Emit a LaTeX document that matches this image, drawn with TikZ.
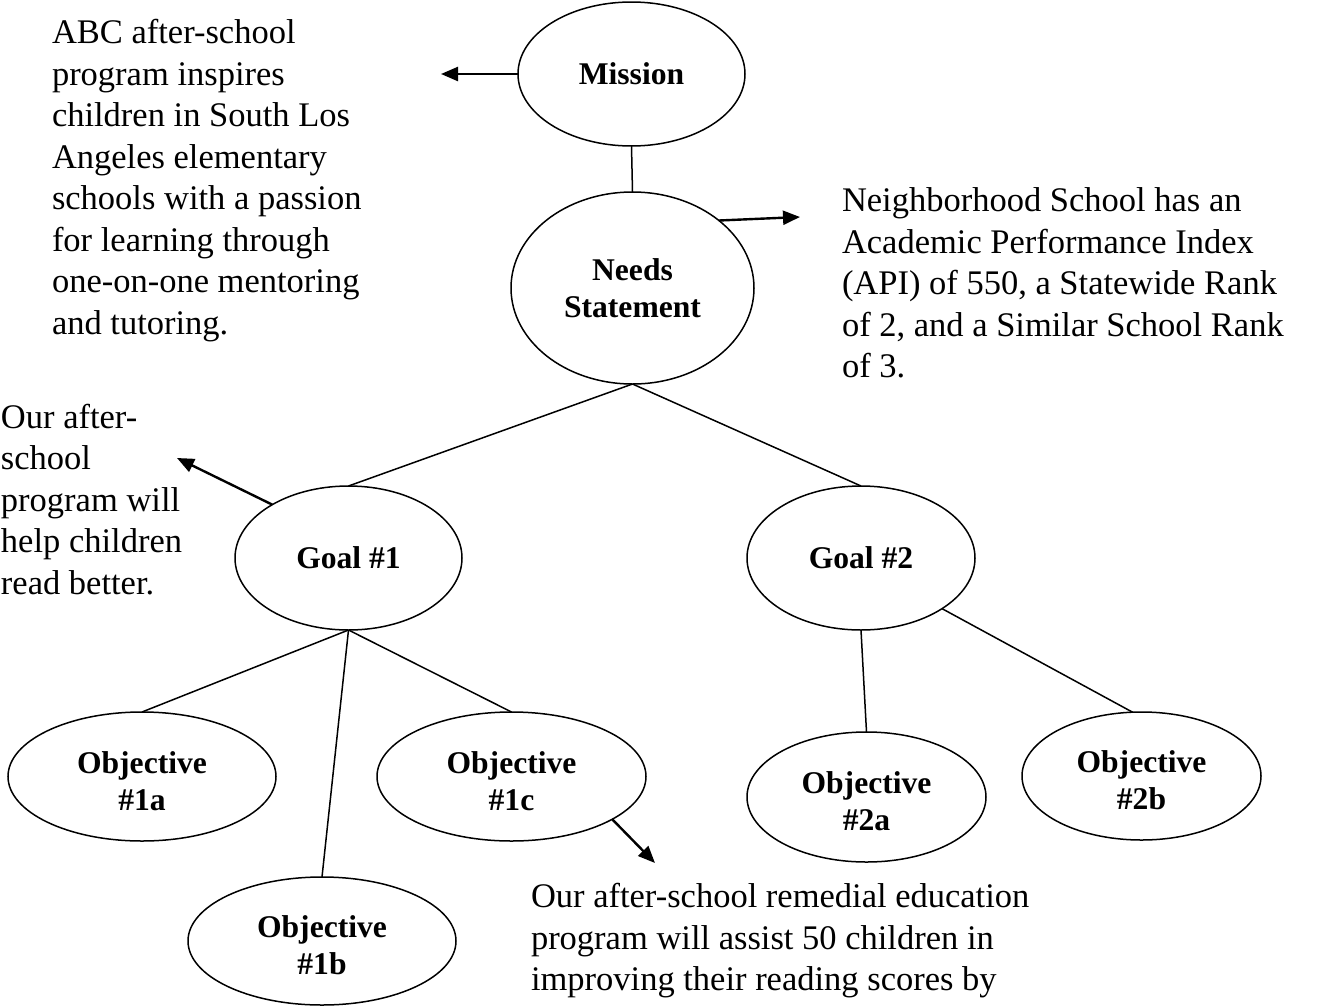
\documentclass[tikz,border=0pt]{standalone}
\usepackage{fontspec}
\setmainfont{Liberation Serif}
\usetikzlibrary{arrows.meta,shapes.geometric}
\begin{document}
\begin{tikzpicture}[x=1pt,y=-1pt,
  bub/.style={draw, ellipse, line width=1.5pt, inner sep=0pt, outer sep=0pt, align=center,
    font=\fontsize{31.6}{37}\selectfont\bfseries},
  link/.style={line width=1.5pt},
  pointer/.style={line width=2.4pt, -{Triangle[length=17pt,width=14pt]}},
  body/.style={inner sep=0pt, outer sep=0pt, anchor=base west,
    font=\fontsize{34.5}{41.5}\selectfont}]
\useasboundingbox (0,0) rectangle (1326,1007);

% ellipses
\node[bub, minimum width=227pt, minimum height=144pt] (mission) at (631.5,74) {Mission};
\node[bub, minimum width=243pt, minimum height=192pt] (needs) at (632.5,288) {Needs\\Statement};
\node[bub, minimum width=227pt, minimum height=144pt] (goal1) at (348.5,558) {Goal \#1};
\node[bub, minimum width=228pt, minimum height=144pt] (goal2) at (861,558) {Goal \#2};
\node[bub, minimum width=268pt, minimum height=129pt] (o1a) at (142,776.5) {\rule{0pt}{32pt}Objective\\\#1a};
\node[bub, minimum width=268pt, minimum height=128pt] (o1b) at (322,941) {\rule{0pt}{30pt}Objective\\\#1b};
\node[bub, minimum width=269pt, minimum height=129pt] (o1c) at (511.5,776.5) {\rule{0pt}{31pt}Objective\\\#1c};
\node[bub, minimum width=239pt, minimum height=130pt] (o2a) at (866.5,797) {\rule{0pt}{31pt}Objective\\\#2a};
\node[bub, minimum width=239pt, minimum height=128pt] (o2b) at (1141.5,776) {\rule{0pt}{31pt}Objective\\\#2b};

% tree links
\draw[link] (mission.south) -- (needs.north);
\draw[link] (needs.south) -- (goal1.north);
\draw[link] (needs.south) -- (goal2.north);
\draw[link] (goal1.south) -- (o1a.north);
\draw[link] (goal1.south) -- (o1b.north);
\draw[link] (goal1.south) -- (o1c.north);
\draw[link] (goal2.south) -- (o2a.north);
\draw[link] (goal2.-32) -- (o2b.98);

% text blocks
\node[body] (mtext) at (52,43.5) {\begin{tabular}[t]{@{}l@{}}ABC after-school\\program inspires\\children in South Los\\Angeles elementary\\schools with a passion\\for learning through\\one-on-one mentoring\\and tutoring.\end{tabular}};
\node[body] (ntext) at (842,211.5) {\begin{tabular}[t]{@{}l@{}}Neighborhood School has an\\Academic Performance Index\\(API) of 550, a Statewide Rank\\of 2, and a Similar School Rank\\of 3.\end{tabular}};
\node[body] (gtext) at (1,428) {\begin{tabular}[t]{@{}l@{}}Our after-\\school\\program will\\help children\\read better.\end{tabular}};
\node[body] (otext) at (531,907.5) {\begin{tabular}[t]{@{}l@{}}Our after-school remedial education\\program will assist 50 children in\\improving their reading scores by\end{tabular}};

% pointers
\coordinate (mtip) at (441,74);
\coordinate (ntip) at (800,217);
\coordinate (gtip) at (177,458);
\coordinate (otip) at (655,863);
\draw[pointer] (mission.west) -- (mtip);
\draw[pointer] (needs.38) -- (ntip);
\draw[pointer] (goal1.145) -- (gtip);
\draw[pointer] (o1c.-23) -- (otip);
\end{tikzpicture}
\end{document}
